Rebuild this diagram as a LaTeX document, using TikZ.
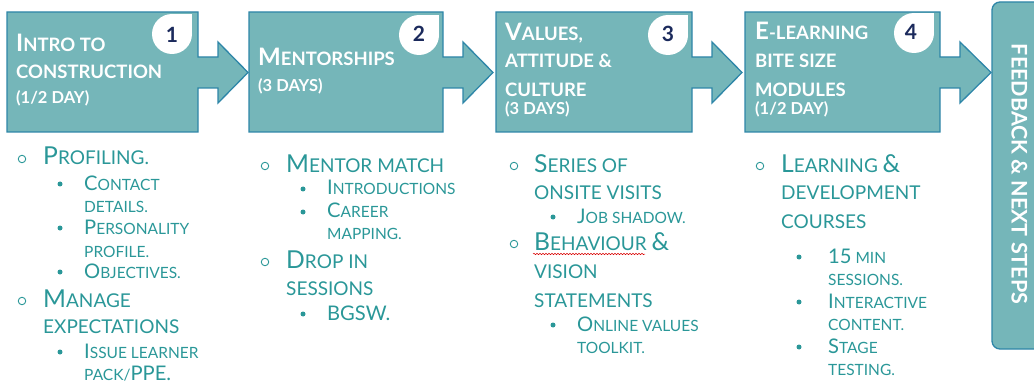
\documentclass[tikz,border=0pt]{standalone}
\usepackage{fontspec}
\setmainfont{Lato}
\usetikzlibrary{decorations.pathmorphing}
\definecolor{boxteal}{HTML}{75B6B9}
\definecolor{edgeblue}{HTML}{2E86A8}
\definecolor{listteal}{HTML}{2A9798}
\definecolor{numnavy}{HTML}{1B2A5C}
\newcommand\uc[1]{\scalebox{1.3}{#1}}
\tikzset{
  stepshape/.style={draw=edgeblue,fill=boxteal,line width=1.3pt,line join=miter},
  ttl/.style={anchor=base west,inner sep=0pt,text=white,font=\fontsize{18.5}{18.5}\selectfont\bfseries},
  ttlsm/.style={ttl,font=\fontsize{16.5}{16.5}\selectfont\bfseries},
  numtxt/.style={text=numnavy,inner sep=0pt,font=\fontsize{21}{21}\selectfont\bfseries},
  lone/.style={anchor=base west,inner sep=0pt,text=listteal,font=\fontsize{19}{19}\selectfont},
  ltwo/.style={lone,font=\fontsize{15.5}{15.5}\selectfont},
  bone/.style={circle,draw=listteal,line width=0.9pt,inner sep=0pt,minimum size=7.5pt},
  btwo/.style={circle,fill=listteal,inner sep=0pt,minimum size=5pt},
}
\begin{document}
\begin{tikzpicture}[x=1pt,y=-1pt]
\useasboundingbox (0,0) rectangle (1034,385);
%% step shapes
\draw [stepshape] (7,12) -- (198,12) -- (198,57) -- (218,57) -- (218,42) -- (248,72.5) -- (218,103) -- (218,88) -- (198,88) -- (198,132) -- (7,132) -- cycle;
\draw [stepshape] (249,12) -- (443,12) -- (443,57) -- (463,57) -- (463,42) -- (493,72.5) -- (463,103) -- (463,88) -- (443,88) -- (443,132) -- (249,132) -- cycle;
\draw [stepshape] (496,12) -- (692,12) -- (692,57) -- (712,57) -- (712,42) -- (742,72.5) -- (712,103) -- (712,88) -- (692,88) -- (692,132) -- (496,132) -- cycle;
\draw [stepshape] (745,12) -- (940,12) -- (940,57) -- (960,57) -- (960,42) -- (991,72.5) -- (960,103) -- (960,88) -- (940,88) -- (940,132) -- (745,132) -- cycle;
\draw [stepshape,rounded corners=8pt] (992,2) rectangle (1050,349);
%% badges
\fill [white] (172,34) circle [radius=20pt];  \fill [white] (172,14) rectangle (192,34);
\fill [white] (419,35) circle [radius=20pt];  \fill [white] (419,15) rectangle (439,35);
\fill [white] (668,35) circle [radius=20pt];  \fill [white] (668,15) rectangle (688,35);
\fill [white] (914,33) circle [radius=20pt];  \fill [white] (914,13) rectangle (934,33);
\node (num1) at (172,35) [numtxt] {1};
\node (num2) at (419,34) [numtxt] {2};
\node (num3) at (668,34) [numtxt] {3};
\node (num4) at (911,32) [numtxt] {4};
%% titles
\node (t1a) at (16,52) [ttl] {\uc{I}NTRO TO};
\node (t1b) at (16,79) [ttl] {CONSTRUCTION};
\node (t1c) at (16,104) [ttlsm] {(1/2 DAY)};
\node (t2a) at (258,66) [ttl] {\uc{M}ENTORSHIPS};
\node (t2b) at (258,92) [ttlsm] {(3 DAYS)};
\node (t3a) at (505,41) [ttl] {\uc{V}ALUES,};
\node (t3b) at (505,68) [ttl] {ATTITUDE \&};
\node (t3c) at (505,97) [ttl] {CULTURE};
\node (t3d) at (505,115) [ttlsm] {(3 DAYS)};
\node (t4a) at (755,40) [ttl] {\uc{E}-LEARNING};
\node (t4b) at (755,68) [ttl] {BITE SIZE};
\node (t4c) at (755,97) [ttl] {MODULES};
\node (t4d) at (755,115) [ttlsm] {(1/2 DAY)};
\node (fb) at (1019.5,174) [rotate=-90,text=white,inner sep=0pt,font=\fontsize{21.5}{21.5}\selectfont\bfseries] {FEEDBACK \& NEXT STEPS};
%% column 1
\node (b1a) at (22,159) [bone] {};
\node (c1a) at (43,165) [lone] {\uc{P}ROFILING.};
\node (b1b) at (60,184) [btwo] {};
\node (c1b) at (84,190) [ltwo] {\uc{C}ONTACT};
\node (c1c) at (84,212) [ltwo] {DETAILS.};
\node (b1c) at (60,228) [btwo] {};
\node (c1d) at (84,234) [ltwo] {\uc{P}ERSONALITY};
\node (c1e) at (84,257) [ltwo] {PROFILE.};
\node (b1d) at (60,272) [btwo] {};
\node (c1f) at (84,278) [ltwo] {\uc{O}BJECTIVES.};
\node (b1e) at (22,301) [bone] {};
\node (c1g) at (43,307) [lone] {\uc{M}ANAGE};
\node (c1h) at (43,333) [lone] {EXPECTATIONS};
\node (b1f) at (60,352) [btwo] {};
\node (c1i) at (84,358) [ltwo] {\uc{I}SSUE LEARNER};
\node (c1j) at (84,380) [ltwo] {PACK/\uc{PPE.}};
%% column 2
\node (b2a) at (265,166) [bone] {};
\node (c2a) at (286,172) [lone] {\uc{M}ENTOR MATCH};
\node (b2b) at (303,189) [btwo] {};
\node (c2b) at (327,195) [ltwo] {\uc{I}NTRODUCTIONS};
\node (b2c) at (303,212) [btwo] {};
\node (c2c) at (327,218) [ltwo] {\uc{C}AREER};
\node (c2d) at (327,240) [ltwo] {MAPPING.};
\node (b2d) at (265,262) [bone] {};
\node (c2e) at (286,268) [lone] {\uc{D}ROP IN};
\node (c2f) at (286,295) [lone] {SESSIONS};
\node (b2e) at (303,314) [btwo] {};
\node (c2g) at (327,320) [ltwo] {\uc{BGSW.}};
%% column 3
\node (b3a) at (514,166) [bone] {};
\node (c3a) at (534,172) [lone] {\uc{S}ERIES OF};
\node (c3b) at (534,200) [lone] {ONSITE VISITS};
\node (b3b) at (553,217) [btwo] {};
\node (c3c) at (577,223) [ltwo] {\uc{J}OB SHADOW.};
\node (b3c) at (514,244) [bone] {};
\node (c3d) at (534,250) [lone] {\uc{B}EHAVIOUR \uc{\&}};
\node (c3e) at (534,278) [lone] {VISION};
\node (c3f) at (534,307) [lone] {STATEMENTS};
\node (b3d) at (553,325) [btwo] {};
\node (c3g) at (577,331) [ltwo] {\uc{O}NLINE VALUES};
\node (c3h) at (577,353) [ltwo] {TOOLKIT.};
\draw [red!85!black,line width=0.5pt,decorate,decoration={snake,amplitude=0.7pt,segment length=3pt}] (533,254) -- (645,254);
%% column 4
\node (b4a) at (760,166) [bone] {};
\node (c4a) at (781,172) [lone] {\uc{L}EARNING \uc{\&}};
\node (c4b) at (781,200) [lone] {DEVELOPMENT};
\node (c4c) at (781,228) [lone] {COURSES};
\node (b4b) at (799,257) [btwo] {};
\node (c4d) at (828,263) [ltwo] {\uc{15} MIN};
\node (c4e) at (828,285) [ltwo] {SESSIONS.};
\node (b4c) at (799,302) [btwo] {};
\node (c4f) at (828,308) [ltwo] {\uc{I}NTERACTIVE};
\node (c4g) at (828,330) [ltwo] {CONTENT.};
\node (b4d) at (799,347) [btwo] {};
\node (c4h) at (828,353) [ltwo] {\uc{S}TAGE};
\node (c4i) at (828,375) [ltwo] {TESTING.};
%
\end{tikzpicture}
\end{document}
